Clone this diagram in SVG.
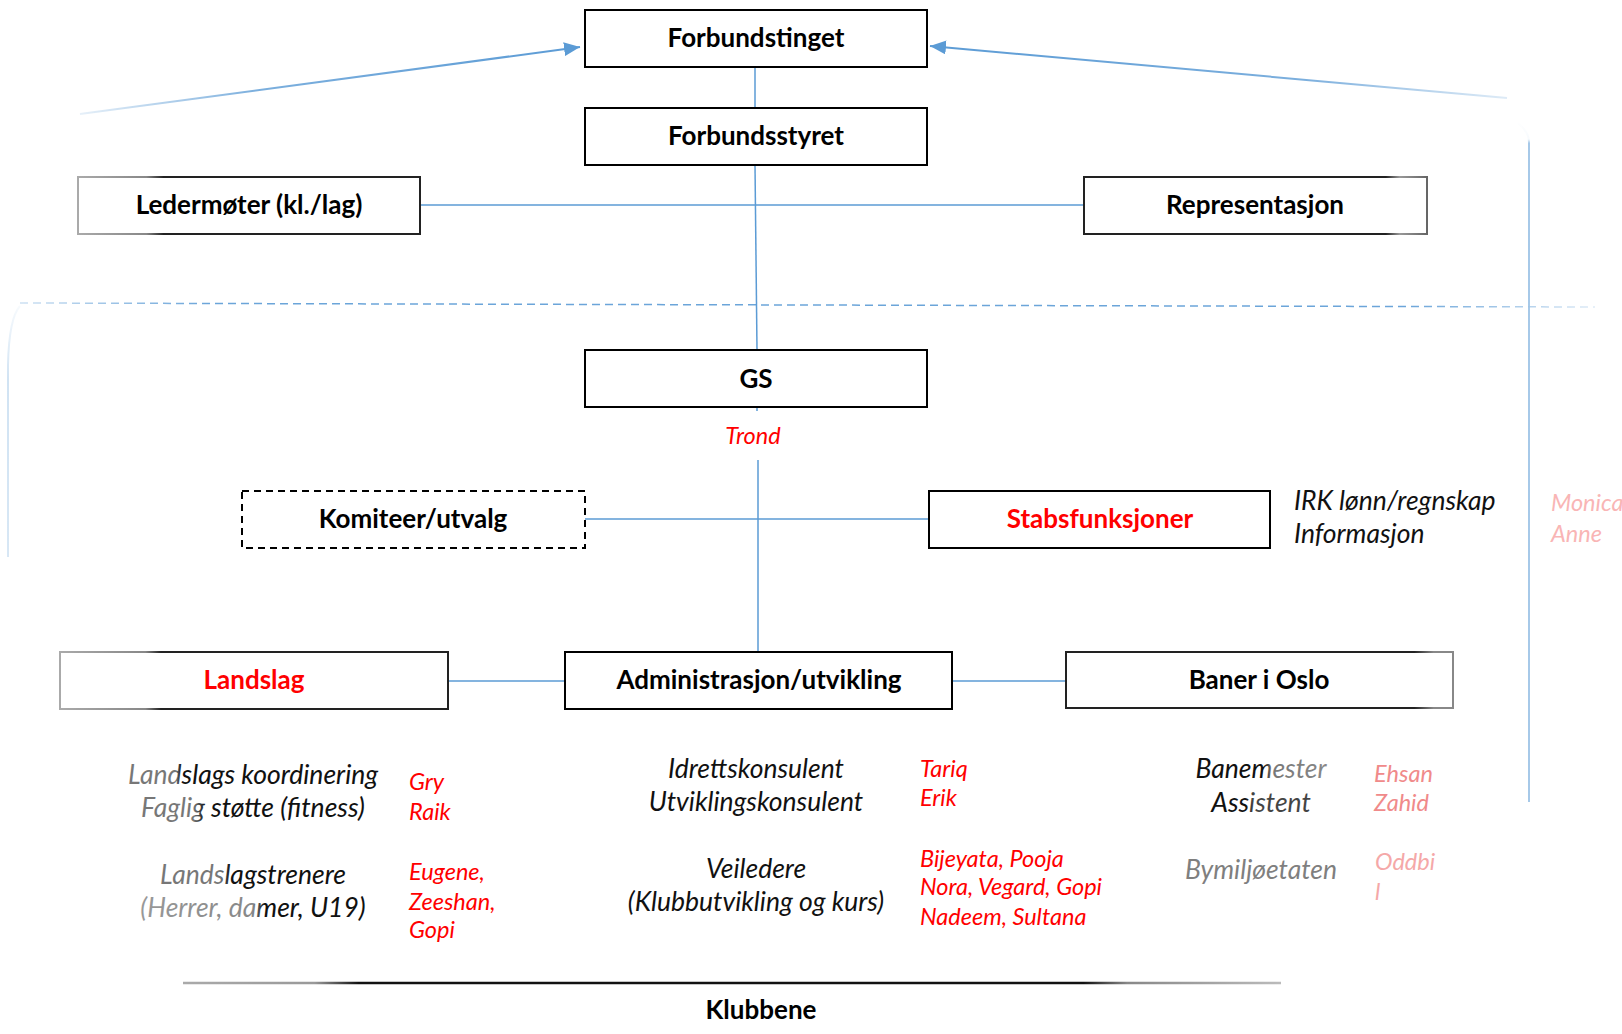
<svg xmlns="http://www.w3.org/2000/svg" width="1622" height="1034" viewBox="0 0 1622 1034">
<defs>
<style>
.box{fill:#fff;stroke:#000;stroke-width:2}
.lbl{font-family:Lato,"Liberation Sans",sans-serif;font-weight:bold;font-size:26px;fill:#000;text-anchor:middle}
.red{fill:#F00}
.it{font-family:Lato,"Liberation Sans",sans-serif;font-style:italic;font-size:26.5px;fill:#111}
.mid{text-anchor:middle}
.nm{font-family:Lato,"Liberation Sans",sans-serif;font-style:italic;font-size:23.5px;fill:#F00}
.con{stroke:#5B9BD5;stroke-width:1.5;fill:none}
</style>
<marker id="ah2" viewBox="0 0 16 14" refX="16" refY="7" markerWidth="16" markerHeight="14" markerUnits="userSpaceOnUse" orient="auto">
<path d="M0 0 L16 7 L0 14 z" fill="#5B9BD5"/>
</marker>
<linearGradient id="gArrL" gradientUnits="userSpaceOnUse" x1="80" y1="114" x2="582" y2="47">
<stop offset="0" stop-color="#5B9BD5" stop-opacity="0.15"/>
<stop offset="0.35" stop-color="#5B9BD5" stop-opacity="0.8"/>
<stop offset="1" stop-color="#5B9BD5" stop-opacity="1"/>
</linearGradient>
<linearGradient id="gArrR" gradientUnits="userSpaceOnUse" x1="1507" y1="98" x2="928" y2="46">
<stop offset="0" stop-color="#5B9BD5" stop-opacity="0.2"/>
<stop offset="0.35" stop-color="#5B9BD5" stop-opacity="0.8"/>
<stop offset="1" stop-color="#5B9BD5" stop-opacity="1"/>
</linearGradient>
<linearGradient id="gDash" gradientUnits="userSpaceOnUse" x1="20" y1="0" x2="1595" y2="0">
<stop offset="0" stop-color="#5B9BD5" stop-opacity="0.3"/>
<stop offset="0.12" stop-color="#5B9BD5" stop-opacity="0.9"/>
<stop offset="0.88" stop-color="#5B9BD5" stop-opacity="0.9"/>
<stop offset="1" stop-color="#5B9BD5" stop-opacity="0.2"/>
</linearGradient>
<linearGradient id="gLeftV" gradientUnits="userSpaceOnUse" x1="0" y1="303" x2="0" y2="557">
<stop offset="0" stop-color="#BDD7EE" stop-opacity="0.1"/>
<stop offset="0.3" stop-color="#BDD7EE" stop-opacity="0.7"/>
<stop offset="1" stop-color="#BDD7EE" stop-opacity="0.6"/>
</linearGradient>
<linearGradient id="gRightV" gradientUnits="userSpaceOnUse" x1="0" y1="120" x2="0" y2="802">
<stop offset="0" stop-color="#9DC3E6" stop-opacity="0"/>
<stop offset="0.028" stop-color="#9DC3E6" stop-opacity="0.08"/>
<stop offset="0.034" stop-color="#9DC3E6" stop-opacity="0.9"/>
<stop offset="1" stop-color="#9DC3E6" stop-opacity="0.9"/>
</linearGradient>
<linearGradient id="gKlub" gradientUnits="userSpaceOnUse" x1="183" y1="0" x2="1281" y2="0">
<stop offset="0" stop-color="#aaa"/>
<stop offset="0.12" stop-color="#999"/>
<stop offset="0.16" stop-color="#111"/>
<stop offset="0.82" stop-color="#111"/>
<stop offset="0.86" stop-color="#888"/>
<stop offset="1" stop-color="#bbb"/>
</linearGradient>
<linearGradient id="gBoxL1" gradientUnits="userSpaceOnUse" x1="78" y1="0" x2="420" y2="0">
<stop offset="0" stop-color="#aaa"/>
<stop offset="0.2" stop-color="#888"/>
<stop offset="0.25" stop-color="#222"/>
<stop offset="1" stop-color="#222"/>
</linearGradient>
<linearGradient id="gBoxL2" gradientUnits="userSpaceOnUse" x1="60" y1="0" x2="448" y2="0">
<stop offset="0" stop-color="#aaa"/>
<stop offset="0.22" stop-color="#888"/>
<stop offset="0.26" stop-color="#222"/>
<stop offset="1" stop-color="#222"/>
</linearGradient>
<linearGradient id="gBoxR1" gradientUnits="userSpaceOnUse" x1="1084" y1="0" x2="1427" y2="0">
<stop offset="0" stop-color="#222"/>
<stop offset="0.88" stop-color="#222"/>
<stop offset="0.92" stop-color="#999"/>
<stop offset="1" stop-color="#666"/>
</linearGradient>
<linearGradient id="gBoxR2" gradientUnits="userSpaceOnUse" x1="1066" y1="0" x2="1453" y2="0">
<stop offset="0" stop-color="#222"/>
<stop offset="0.9" stop-color="#222"/>
<stop offset="0.95" stop-color="#888"/>
<stop offset="1" stop-color="#888"/>
</linearGradient>
<linearGradient id="tL1" gradientUnits="userSpaceOnUse" x1="125" y1="0" x2="381" y2="0">
<stop offset="0" stop-color="#777"/><stop offset="0.2" stop-color="#777"/><stop offset="0.22" stop-color="#111"/><stop offset="1" stop-color="#111"/>
</linearGradient>
<linearGradient id="tL2" gradientUnits="userSpaceOnUse" x1="135" y1="0" x2="370" y2="0">
<stop offset="0" stop-color="#777"/><stop offset="0.25" stop-color="#777"/><stop offset="0.3" stop-color="#111"/><stop offset="1" stop-color="#111"/>
</linearGradient>
<linearGradient id="tL3" gradientUnits="userSpaceOnUse" x1="158" y1="0" x2="348" y2="0">
<stop offset="0" stop-color="#777"/><stop offset="0.33" stop-color="#777"/><stop offset="0.38" stop-color="#111"/><stop offset="1" stop-color="#111"/>
</linearGradient>
<linearGradient id="tL4" gradientUnits="userSpaceOnUse" x1="137" y1="0" x2="369" y2="0">
<stop offset="0" stop-color="#999"/><stop offset="0.5" stop-color="#888"/><stop offset="0.55" stop-color="#111"/><stop offset="1" stop-color="#111"/>
</linearGradient>
<linearGradient id="tB1" gradientUnits="userSpaceOnUse" x1="1195" y1="0" x2="1327" y2="0">
<stop offset="0" stop-color="#111"/><stop offset="0.52" stop-color="#111"/><stop offset="0.58" stop-color="#777"/><stop offset="1" stop-color="#888"/>
</linearGradient>
<linearGradient id="tB2" gradientUnits="userSpaceOnUse" x1="1211" y1="0" x2="1310" y2="0">
<stop offset="0" stop-color="#111"/><stop offset="0.35" stop-color="#111"/><stop offset="0.42" stop-color="#444"/><stop offset="1" stop-color="#444"/>
</linearGradient>
<clipPath id="cOdd">
<polygon points="1360,840 1462,840 1392,912 1360,912"/>
</clipPath>
</defs>
<rect width="1622" height="1034" fill="#fff"/>

<g id="connectors">
<line x1="80" y1="114" x2="580" y2="47" stroke="url(#gArrL)" stroke-width="2" marker-end="url(#ah2)"/>
<line x1="1507" y1="98" x2="930" y2="46" stroke="url(#gArrR)" stroke-width="2" marker-end="url(#ah2)"/>
<line x1="20" y1="303" x2="1595" y2="307" stroke="url(#gDash)" stroke-width="1.5" stroke-dasharray="8 5"/>
<path d="M20 306 Q9 318 8 365 L8 557" stroke="url(#gLeftV)" stroke-width="2" fill="none"/>
<path d="M1518 123 Q1529 132 1529 142 L1529 802" stroke="url(#gRightV)" stroke-width="2" fill="none"/>
<line class="con" x1="755" y1="67" x2="755" y2="108"/>
<line class="con" x1="755" y1="165" x2="757" y2="350"/>
<line class="con" x1="420" y1="205" x2="1084" y2="205"/>
<line class="con" x1="757" y1="407" x2="757" y2="411"/>
<line class="con" x1="758" y1="460" x2="758" y2="652"/>
<line class="con" x1="585" y1="519" x2="929" y2="519"/>
<line class="con" x1="448" y1="681" x2="565" y2="681"/>
<line class="con" x1="952" y1="681" x2="1066" y2="681"/>
<line x1="183" y1="983" x2="1281" y2="983" stroke="url(#gKlub)" stroke-width="2.5"/>
</g>

<g id="n-forbundstinget">
<rect class="box" x="585" y="10" width="342" height="57"/>
<text class="lbl" x="756" y="47">Forbundstinget</text>
</g>
<g id="n-forbundsstyret">
<rect class="box" x="585" y="108" width="342" height="57"/>
<text class="lbl" x="756" y="145">Forbundsstyret</text>
</g>
<g id="n-ledermoter">
<rect class="box" x="78" y="177" width="342" height="57" style="stroke:url(#gBoxL1)"/>
<text class="lbl" x="249" y="214">Ledermøter (kl./lag)</text>
</g>
<g id="n-representasjon">
<rect class="box" x="1084" y="177" width="343" height="57" style="stroke:url(#gBoxR1)"/>
<text class="lbl" x="1255" y="214">Representasjon</text>
</g>
<g id="n-gs">
<rect class="box" x="585" y="350" width="342" height="57"/>
<text class="lbl" x="756" y="388">GS</text>
<text class="nm mid" x="753" y="444">Trond</text>
</g>
<g id="n-komiteer">
<rect class="box" x="242" y="491" width="343" height="57" stroke-dasharray="7 5"/>
<text class="lbl" x="413" y="528">Komiteer/utvalg</text>
</g>
<g id="n-stabsfunksjoner">
<rect class="box" x="929" y="491" width="341" height="57"/>
<text class="lbl red" x="1100" y="528">Stabsfunksjoner</text>
<text class="it" x="1294" y="510">IRK lønn/regnskap</text>
<text class="it" x="1294" y="543">Informasjon</text>
<text class="nm" x="1551" y="511" style="fill:#F9B5B5">Monica</text>
<text class="nm" x="1551" y="542" style="fill:#F9B5B5">Anne</text>
</g>
<g id="n-landslag">
<rect class="box" x="60" y="652" width="388" height="57" style="stroke:url(#gBoxL2)"/>
<text class="lbl red" x="254" y="689">Landslag</text>
<text class="it mid" x="253" y="784" style="fill:url(#tL1)">Landslags koordinering</text>
<text class="it mid" x="253" y="817" style="fill:url(#tL2)">Faglig støtte (fitness)</text>
<text class="nm" x="409" y="790">Gry</text>
<text class="nm" x="409" y="820">Raik</text>
<text class="it mid" x="253" y="884" style="fill:url(#tL3)">Landslagstrenere</text>
<text class="it mid" x="253" y="917" style="fill:url(#tL4)">(Herrer, damer, U19)</text>
<text class="nm" x="409" y="880">Eugene,</text>
<text class="nm" x="409" y="910">Zeeshan,</text>
<text class="nm" x="409" y="938">Gopi</text>
</g>
<g id="n-administrasjon">
<rect class="box" x="565" y="652" width="387" height="57"/>
<text class="lbl" x="759" y="689">Administrasjon/utvikling</text>
<text class="it mid" x="756" y="778">Idrettskonsulent</text>
<text class="it mid" x="756" y="811">Utviklingskonsulent</text>
<text class="nm" x="920" y="777">Tariq</text>
<text class="nm" x="920" y="806">Erik</text>
<text class="it mid" x="756" y="878">Veiledere</text>
<text class="it mid" x="756" y="911">(Klubbutvikling og kurs)</text>
<text class="nm" x="920" y="867">Bijeyata, Pooja</text>
<text class="nm" x="920" y="895">Nora, Vegard, Gopi</text>
<text class="nm" x="920" y="925">Nadeem, Sultana</text>
</g>
<g id="n-baner">
<rect class="box" x="1066" y="652" width="387" height="56" style="stroke:url(#gBoxR2)"/>
<text class="lbl" x="1259" y="689">Baner i Oslo</text>
<text class="it mid" x="1261" y="778" style="fill:url(#tB1)">Banemester</text>
<text class="it mid" x="1261" y="812" style="fill:url(#tB2)">Assistent</text>
<text class="nm" x="1374" y="782" style="fill:#F08A8A">Ehsan</text>
<text class="nm" x="1374" y="811" style="fill:#F08A8A">Zahid</text>
<text class="it mid" x="1261" y="879" style="fill:#7F7F7F">Bymiljøetaten</text>
<g clip-path="url(#cOdd)">
<text class="nm" x="1375" y="870" style="fill:#F5A8A8">Oddbi</text>
<text class="nm" x="1375" y="900" style="fill:#F5A8A8">l</text>
</g>
</g>
<g id="n-klubbene">
<text class="lbl" x="761" y="1019">Klubbene</text>
</g>
</svg>
